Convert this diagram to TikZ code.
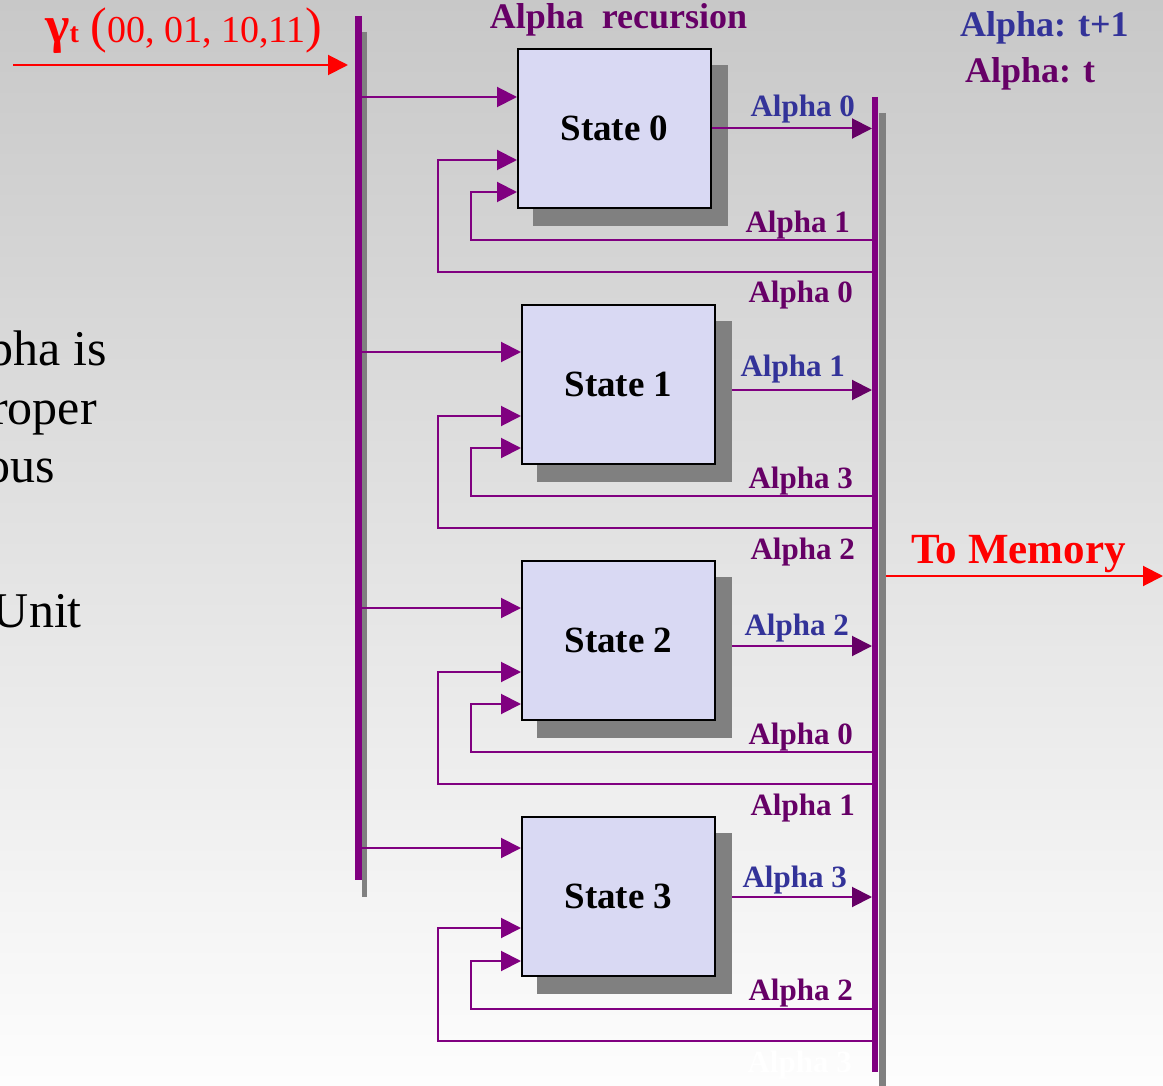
\documentclass[tikz,border=0pt]{standalone}
\usepackage{fontspec}
\setmainfont{Liberation Serif}
\usepackage{xcolor}
\usepackage{tikz}
\usetikzlibrary{arrows.meta}

\definecolor{busPurple}{HTML}{800080}
\definecolor{alphaOld}{HTML}{660066}
\definecolor{alphaNew}{HTML}{333399}
\definecolor{boxFill}{HTML}{D9D9F3}
\definecolor{shadowGray}{HTML}{808080}
\definecolor{bgTop}{HTML}{C8C8C8}
\definecolor{bgBottom}{HTML}{FDFDFD}

\begin{document}
\begin{tikzpicture}[x=1pt, y=-1pt,
  stateBox/.style = {shape=rectangle, draw=black, line width=2pt, fill=boxFill, minimum width=193pt, minimum height=159pt, inner sep=0pt, font=\fontsize{37}{37}\selectfont\bfseries},
  shadowBox/.style = {shape=rectangle, fill=shadowGray, minimum width=195pt, minimum height=161pt, inner sep=0pt},
  flow/.style = {draw=busPurple, line width=2pt, -{Triangle[length=20pt, width=20pt]}},
  outFlow/.style = {draw=busPurple, line width=2pt, -{Triangle[length=20pt, width=20pt, color=alphaOld]}},
  redFlow/.style = {draw=red, line width=2pt, -{Triangle[length=20pt, width=20pt]}},
  oldLabel/.style = {anchor=base east, inner sep=0pt, text=alphaOld, font=\fontsize{31}{31}\selectfont\bfseries},
  newLabel/.style = {anchor=base east, inner sep=0pt, text=alphaNew, font=\fontsize{31}{31}\selectfont\bfseries},
  bodyText/.style = {anchor=base east, inner sep=0pt, font=\fontsize{50}{50}\selectfont},
]

\useasboundingbox (0,0) rectangle (1163,1086);
\clip (0,0) rectangle (1163,1086);
\shade[top color=bgTop, bottom color=bgBottom] (0,0) rectangle (1163,1086);

% slide text cut off on the left
\node[bodyText] (lineOne) at (107,365) {pha is};
\node[bodyText] (lineTwo) at (97,424) {roper};
\node[bodyText] (lineThree) at (55,482) {ous};
\node[bodyText] (lineFour) at (82,627) {Unit};

% headings
\node[anchor=base, inner sep=0pt, text=alphaOld, font=\fontsize{36}{36}\selectfont\bfseries] (recursion) at (618.5,29) {Alpha~~recursion};
\node[anchor=base west, inner sep=0pt, text=alphaNew, font=\fontsize{36}{36}\selectfont\bfseries] (keyNew) at (960,37) {Alpha: t+1};
\node[anchor=base west, inner sep=0pt, text=alphaOld, font=\fontsize{36}{36}\selectfont\bfseries] (keyOld) at (965,83) {Alpha: t};
\node[anchor=base west, inner sep=0pt, text=red] (gamma) at (45,43) {{\fontsize{52}{52}\selectfont\bfseries γ}{\fontsize{28}{28}\selectfont\bfseries t}\hspace{12pt}{\fontsize{50}{50}\selectfont(}{\fontsize{38}{38}\selectfont 00, 01, 10,11}{\fontsize{50}{50}\selectfont)}};
\node[anchor=base west, inner sep=0pt, text=red, font=\fontsize{43}{43}\selectfont\bfseries] (memory) at (911,563) {To Memory};

% states and their shadows
\node[shadowBox] (shadow0) at (630.5,145.5) {};
\node[shadowBox] (shadow1) at (634.5,401.5) {};
\node[shadowBox] (shadow2) at (634.5,657.5) {};
\node[shadowBox] (shadow3) at (634.5,913.5) {};
\node[stateBox] (state0) at (614.5,128.5) {State 0};
\node[stateBox] (state1) at (618.5,384.5) {State 1};
\node[stateBox] (state2) at (618.5,640.5) {State 2};
\node[stateBox] (state3) at (618.5,896.5) {State 3};

\coordinate (leftBus) at (358.5,0);
\coordinate (rightBus) at (872,0);
\coordinate (memoryEnd) at (1163,576);
\coordinate (gammaStart) at (13,65);

% left bus
\draw[shadowGray, line width=5pt] (364.5,32) -- (364.5,897);
\draw[busPurple, line width=7pt] (358.5,16) -- (358.5,880);

% branch metrics in
\draw[redFlow] (gammaStart) -- ([xshift=-10.5pt]leftBus |- gammaStart);
\draw[flow] (leftBus |- 0,97) -- (state0.west |- 0,97);
\draw[flow] (leftBus |- 0,352) -- (state1.west |- 0,352);
\draw[flow] (leftBus |- 0,608) -- (state2.west |- 0,608);
\draw[flow] (leftBus |- 0,848) -- (state3.west |- 0,848);

% alpha t fed back
\draw[flow] (rightBus |- 0,272) -| (438,160) -- (state0.west |- 0,160);
\draw[flow] (rightBus |- 0,240) -| (471,192) -- (state0.west |- 0,192);
\draw[flow] (rightBus |- 0,528) -| (438,416) -- (state1.west |- 0,416);
\draw[flow] (rightBus |- 0,496) -| (471,448) -- (state1.west |- 0,448);
\draw[flow] (rightBus |- 0,784) -| (438,672) -- (state2.west |- 0,672);
\draw[flow] (rightBus |- 0,752) -| (471,704) -- (state2.west |- 0,704);
\draw[flow] (rightBus |- 0,1041) -| (438,928) -- (state3.west |- 0,928);
\draw[flow] (rightBus |- 0,1009) -| (471,961) -- (state3.west |- 0,961);

% alpha t+1 out
\draw[outFlow] (state0.east) -- (rightBus |- state0.east);
\draw[outFlow] (shadow1.east |- 0,390) -- (rightBus |- 0,390);
\draw[outFlow] (shadow2.east |- 0,646) -- (rightBus |- 0,646);
\draw[outFlow] (shadow3.east |- 0,897) -- (rightBus |- 0,897);
\draw[redFlow] ([xshift=12pt]rightBus |- memoryEnd) -- (memoryEnd);

% right bus
\draw[shadowGray, line width=7pt] (882.5,113) -- (882.5,1086);
\draw[busPurple, line width=6.5pt] (875,97) -- (875,1072);

\node[newLabel] (new0) at (855,117) {Alpha 0};
\node[newLabel] (new1) at (845,377) {Alpha 1};
\node[newLabel] (new2) at (849,635) {Alpha 2};
\node[newLabel] (new3) at (847,887) {Alpha 3};
\node[oldLabel] (old1a) at (850,233) {Alpha 1};
\node[oldLabel] (old0a) at (853,303) {Alpha 0};
\node[oldLabel] (old3a) at (853,488) {Alpha 3};
\node[oldLabel] (old2a) at (855,559) {Alpha 2};
\node[oldLabel] (old0b) at (853,744) {Alpha 0};
\node[oldLabel] (old1b) at (855,815) {Alpha 1};
\node[oldLabel] (old2b) at (853,1000) {Alpha 2};
\node[oldLabel, text=white] (old3b) at (852,1072) {Alpha 3};
\end{tikzpicture}
\end{document}
